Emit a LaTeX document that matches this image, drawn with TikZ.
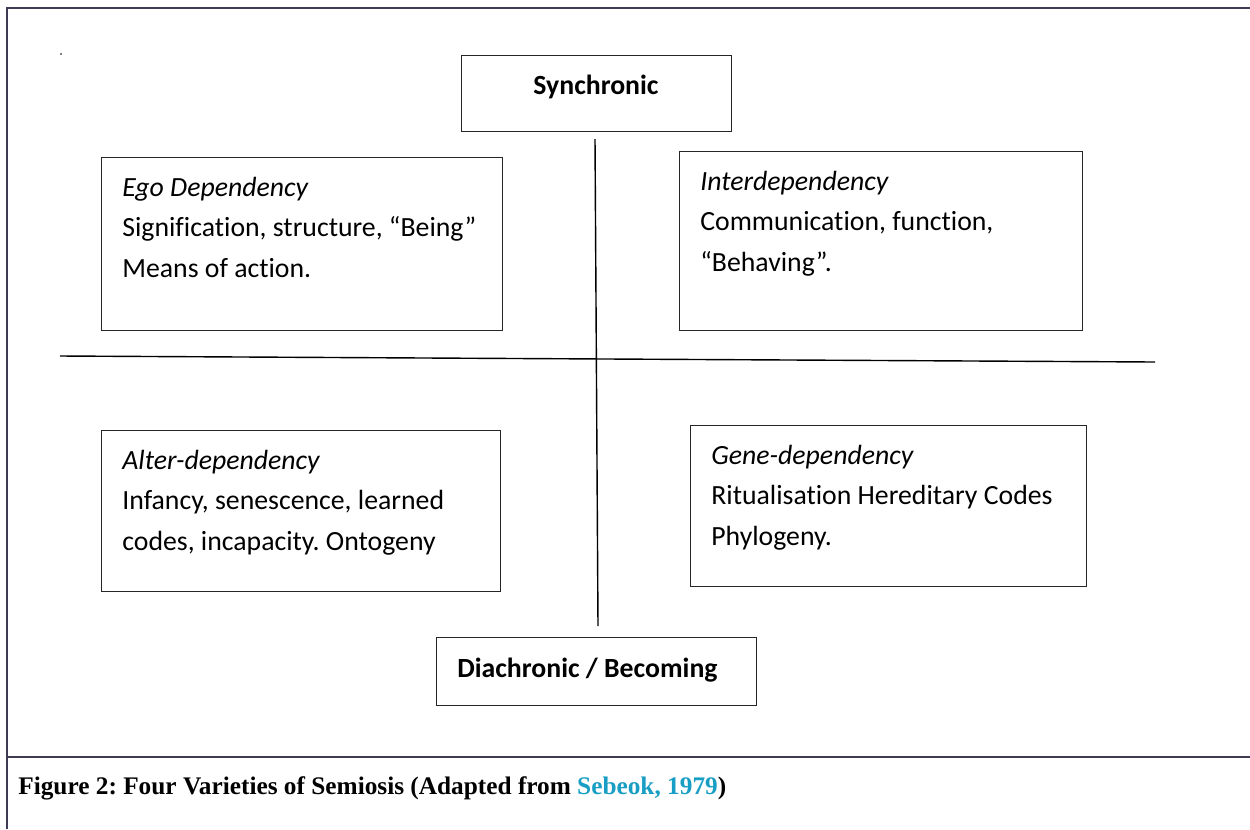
\documentclass[tikz,border=0pt]{standalone}
\usepackage{fontspec}
\setmainfont{Carlito}[Ligatures = NoCommon]
\newfontfamily\capfont{Liberation Serif}
\usetikzlibrary{positioning}
\definecolor{framecol}{RGB}{62,60,84}
\definecolor{citecol}{RGB}{24,158,196}
\frenchspacing

\begin{document}
\begin{tikzpicture}[x = 0.02cm, y = -0.02cm,
	box/.style = {draw = black!85, line width = 0.6pt, inner sep = 0pt, anchor = north west},
	txt/.style = {inner sep = 0pt, anchor = base west, font = \fontsize{15.8}{18}\selectfont},
	head/.style = {txt, font = \fontsize{15.8}{18}\selectfont\itshape},
	pole/.style = {inner sep = 0pt, font = \fontsize{15.8}{18}\selectfont\bfseries},
	axis/.style = {line width = 0.8pt, black}]
	\useasboundingbox (0, 0) rectangle (1250, 829);
	% frame and caption
	\draw[framecol, line width = 1pt] (1250, 8) -- (7, 8) -- (7, 829);
	\draw[framecol, line width = 1pt] (7, 757) -- (1250, 757);
	\fill[black!50] (60, 53) rectangle (61.5, 54.5);
	\node[inner sep = 0pt, anchor = base west, font = \capfont\bfseries\fontsize{14.4}{16}\selectfont] (caption) at (18, 794)
		{Figure 2: Four Varieties of Semiosis (Adapted from \textcolor{citecol}{Sebeok, 1979})};
	% poles
	\node[box, minimum width = 5.4cm, minimum height = 1.52cm] (sync) at (461, 55) {};
	\node[pole, anchor = base] (sync-t) at (596, 94) {Synchronic};
	\node[box, minimum width = 6.4cm, minimum height = 1.36cm] (diachr) at (436, 637) {};
	\node[pole, anchor = base west] (diachr-t) at (457, 677) {Diachronic / Becoming};
	% axes
	\coordinate (vtop) at (595, 139);
	\coordinate (vbot) at (598, 626);
	\coordinate (hleft) at (60, 356);
	\coordinate (hright) at (1155, 362);
	\draw[axis] (vtop) -- (vbot);
	\draw[axis] (hleft) -- (hright);
	% quadrants
	\foreach \name/\x/\y/\w/\h/\title/\one/\two in {
		ego/101/157/8.02/3.46/{Ego Dependency}/{Signification, structure, “Being”}/{Means of action.},
		inter/679/151/8.06/3.58/{Interdependency}/{Communication, function,}/{“Behaving”.},
		alter/101/430/7.98/3.22/{Alter-dependency}/{Infancy, senescence, learned}/{codes, incapacity. Ontogeny},
		gene/690/425/7.92/3.22/{Gene-dependency}/{Ritualisation Hereditary Codes}/{Phylogeny.}}{
		\node[box, minimum width = \w cm, minimum height = \h cm] (\name) at (\x, \y) {};
		\node[head] (\name-h) at (\x + 21, \y + 39) {\title};
		\node[txt] (\name-a) at (\x + 21, \y + 79) {\one};
		\node[txt] (\name-b) at (\x + 21, \y + 120) {\two};}
\end{tikzpicture}
\end{document}
